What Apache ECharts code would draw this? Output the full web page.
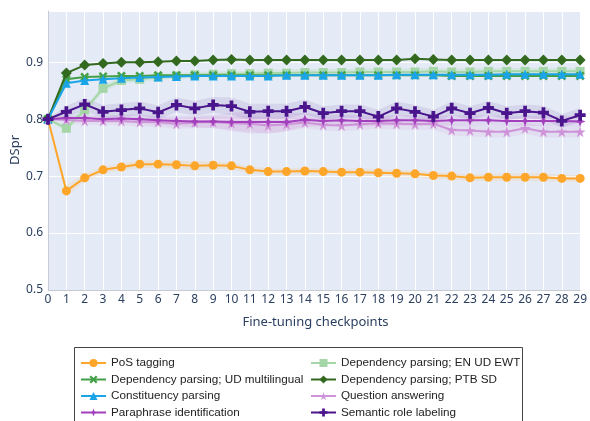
<!DOCTYPE html>
<html>
<head>
<meta charset="utf-8">
<script src="https://cdn.jsdelivr.net/npm/echarts@6/dist/echarts.min.js"></script>
<style>html,body{margin:0;padding:0;background:#fff;}#c{width:590px;height:421px;}</style>
</head>
<body>
<div id="c"></div>
<script>
const checkpoints = [0,1,2,3,4,5,6,7,8,9,10,11,12,13,14,15,16,17,18,19,20,21,22,23,24,25,26,27,28,29];
const yTicks = [0.5,0.6,0.7,0.8,0.9];

const posTagging = [0.800,0.674,0.697,0.711,0.716,0.721,0.721,0.720,0.718,0.719,0.718,0.711,0.708,0.708,0.709,0.708,0.707,0.707,0.706,0.705,0.704,0.701,0.700,0.697,0.698,0.698,0.698,0.698,0.696,0.696];
const depEnUdEwt = [0.800,0.784,0.816,0.854,0.868,0.870,0.874,0.876,0.878,0.879,0.880,0.880,0.881,0.881,0.882,0.882,0.882,0.883,0.883,0.883,0.883,0.884,0.883,0.883,0.884,0.884,0.884,0.884,0.884,0.884];
const depUdMulti = [0.800,0.870,0.874,0.875,0.876,0.876,0.877,0.877,0.877,0.877,0.877,0.877,0.877,0.877,0.877,0.877,0.877,0.877,0.877,0.877,0.877,0.877,0.876,0.876,0.876,0.876,0.876,0.876,0.876,0.876];
const depPtbSd = [0.800,0.881,0.895,0.898,0.900,0.900,0.901,0.902,0.902,0.904,0.905,0.904,0.904,0.904,0.904,0.904,0.904,0.904,0.904,0.904,0.906,0.905,0.904,0.904,0.904,0.904,0.904,0.904,0.904,0.904];
const constituency = [0.800,0.863,0.868,0.870,0.872,0.873,0.874,0.875,0.876,0.876,0.876,0.876,0.876,0.877,0.877,0.877,0.877,0.877,0.877,0.878,0.878,0.878,0.878,0.878,0.878,0.879,0.879,0.879,0.879,0.879];
const questionAns = [0.800,0.799,0.797,0.797,0.797,0.795,0.795,0.792,0.794,0.795,0.793,0.792,0.789,0.791,0.794,0.790,0.789,0.791,0.793,0.792,0.791,0.792,0.781,0.780,0.778,0.778,0.784,0.778,0.778,0.778];
const paraphrase = [0.800,0.802,0.802,0.800,0.801,0.800,0.798,0.797,0.796,0.796,0.795,0.795,0.795,0.795,0.799,0.797,0.798,0.797,0.797,0.798,0.798,0.797,0.798,0.798,0.798,0.797,0.797,0.797,0.797,0.796];
const semRole = [0.800,0.813,0.826,0.813,0.816,0.819,0.812,0.825,0.819,0.825,0.823,0.813,0.814,0.814,0.8215,0.8105,0.814,0.814,0.8045,0.819,0.813,0.8045,0.819,0.8105,0.820,0.8105,0.814,0.8115,0.797,0.807];

const posBand = [0.001,0.010,0.007,0.006,0.006,0.007,0.007,0.007,0.008,0.007,0.006,0.006,0.006,0.006,0.006,0.005,0.006,0.007,0.006,0.006,0.006,0.006,0.006,0.006,0.006,0.007,0.007,0.007,0.006,0.006];
const ewtBand = [0.001,0.006,0.006,0.006,0.005,0.005,0.005,0.005,0.005,0.005,0.005,0.005,0.006,0.006,0.006,0.006,0.006,0.006,0.006,0.006,0.007,0.006,0.006,0.006,0.006,0.006,0.006,0.006,0.006,0.006];
const qaBand = [0.001,0.006,0.007,0.007,0.008,0.008,0.009,0.009,0.010,0.010,0.012,0.014,0.014,0.012,0.010,0.010,0.010,0.010,0.010,0.010,0.010,0.010,0.010,0.010,0.010,0.010,0.010,0.010,0.010,0.010];
const paraBand = [0.001,0.006,0.006,0.006,0.007,0.008,0.008,0.009,0.010,0.012,0.016,0.020,0.020,0.016,0.012,0.010,0.010,0.010,0.009,0.009,0.009,0.009,0.009,0.009,0.009,0.009,0.009,0.009,0.009,0.009];
const srlBand = [0.001,0.010,0.011,0.012,0.012,0.012,0.012,0.013,0.013,0.014,0.015,0.014,0.013,0.013,0.013,0.012,0.012,0.012,0.012,0.012,0.012,0.012,0.012,0.012,0.012,0.012,0.012,0.012,0.012,0.012];

const SYM_X = 'path://M2,0 L5,3 L8,0 L10,2 L7,5 L10,8 L8,10 L5,7 L2,10 L0,8 L3,5 L0,2 Z';
const SYM_STAR = 'path://M50,0 L61,35 L98,35 L68,57 L79,91 L50,70 L21,91 L32,57 L2,35 L39,35 Z';
const SYM_PLUS = 'path://M3.3,0 H6.7 V3.3 H10 V6.7 H6.7 V10 H3.3 V6.7 H0 V3.3 H3.3 Z';
const SYM_4STAR = 'path://M5,0 L6.3,3.7 L10,5 L6.3,6.3 L5,10 L3.7,6.3 L0,5 L3.7,3.7 Z';

function mainSeries(name, data, color, symbol, size, z) {
  return {
    name, type:'line', data: data.slice(), symbol, symbolSize: size,
    lineStyle:{color, width:2}, itemStyle:{color, borderWidth:0},
    emphasis:{disabled:true}, z, animation:false
  };
}
function bandSeries(id, data, band, color) {
  const lower = data.map((v,i)=>+(v-band[i]).toFixed(4));
  const diff = band.map(b=>+(2*b).toFixed(4));
  return [
    {name:id+'_lo', type:'line', stack:id, data: lower, symbol:'none', lineStyle:{opacity:0}, z:1, animation:false, silent:true},
    {name:id+'_hi', type:'line', stack:id, data: diff, symbol:'none', lineStyle:{opacity:0}, areaStyle:{color, opacity:1}, z:1, animation:false, silent:true}
  ];
}

const C = {
  pos:'#fea62a', ewt:'#a5d6a7', multi:'#43a047', ptb:'#33691e',
  cons:'#1ba5e8', qa:'#ce93d8', para:'#a23fbd', srl:'#4a148c'
};

const series = [
  ...bandSeries('b1', posTagging, posBand, 'rgba(254,166,42,0.12)'),
  ...bandSeries('b2', depEnUdEwt, ewtBand, 'rgba(165,214,167,0.25)'),
  ...bandSeries('b3', questionAns, qaBand, 'rgba(206,147,216,0.15)'),
  ...bandSeries('b4', paraphrase, paraBand, 'rgba(162,63,189,0.10)'),
  ...bandSeries('b5', semRole, srlBand, 'rgba(74,20,140,0.10)'),
  mainSeries('PoS tagging', posTagging, C.pos, 'circle', 9, 10),
  mainSeries('Dependency parsing; EN UD EWT', depEnUdEwt, C.ewt, 'rect', 9, 11),
  mainSeries('Dependency parsing; UD multilingual', depUdMulti, C.multi, SYM_X, 9, 12),
  mainSeries('Dependency parsing; PTB SD', depPtbSd, C.ptb, 'diamond', 11, 13),
  mainSeries('Constituency parsing', constituency, C.cons, 'triangle', 9, 14),
  mainSeries('Question answering', questionAns, C.qa, SYM_STAR, 11, 15),
  mainSeries('Paraphrase identification', paraphrase, C.para, SYM_4STAR, 11, 16),
  mainSeries('Semantic role labeling', semRole, C.srl, SYM_PLUS, 11, 17)
];

const legendCommon = {
  orient:'vertical', top:357, padding:0, itemGap:4.5, itemWidth:25, itemHeight:10,
  textStyle:{fontFamily:'Liberation Sans, Arial, sans-serif', fontSize:11.7, color:'#222'},
  selectedMode:false
};

const chart = echarts.init(document.getElementById('c'), null, {renderer:'canvas'});
chart.setOption({
  backgroundColor:'#fff',
  animation:false,
  grid:{left:48, right:7, top:11, bottom:131, show:true, backgroundColor:'#e5ebf6', borderWidth:0},
  xAxis:{
    type:'category', data: checkpoints.map(String), boundaryGap:false,
    axisLine:{show:true, onZero:false, lineStyle:{color:'#c5cad3', width:1}},
    axisTick:{show:false},
    axisLabel:{margin:4, interval:0, fontFamily:'Noto Sans, sans-serif', fontSize:12, color:'#2a3f5f'},
    splitLine:{show:true, interval:0, lineStyle:{color:'#ffffff', width:1}}
  },
  yAxis:{
    type:'value', min:0.5, max:0.99, interval:0.1,
    axisLine:{show:true, lineStyle:{color:'#c5cad3', width:1}},
    axisTick:{show:false},
    axisLabel:{margin:5, showMaxLabel:false, fontFamily:'Noto Sans, sans-serif', fontSize:12, color:'#2a3f5f',
      formatter: v => { const t = yTicks.find(k=>Math.abs(k-v)<1e-6); return t===undefined ? '' : t.toFixed(1); }},
    splitLine:{show:true, lineStyle:{color:'#ffffff', width:1}}
  },
  legend:[
    Object.assign({left:80, data:['PoS tagging','Dependency parsing; UD multilingual','Constituency parsing','Paraphrase identification']}, legendCommon),
    Object.assign({left:310, data:['Dependency parsing; EN UD EWT','Dependency parsing; PTB SD','Question answering','Semantic role labeling']}, legendCommon)
  ],
  graphic:[
    {type:'rect', shape:{x:74.5, y:347.5, width:448, height:90}, style:{fill:'none', stroke:'#444', lineWidth:1}, silent:true},
    {type:'text', x:315.5, y:322, style:{text:'Fine-tuning checkpoints', fontFamily:'Noto Sans, sans-serif', fontSize:13, fill:'#2a3f5f', align:'center', verticalAlign:'middle'}},
    {type:'text', x:15, y:150, rotation:Math.PI/2, style:{text:'DSpr', fontFamily:'Noto Sans, sans-serif', fontSize:13, fill:'#2a3f5f', align:'center', verticalAlign:'middle'}}
  ],
  series
});
</script>
</body>
</html>
